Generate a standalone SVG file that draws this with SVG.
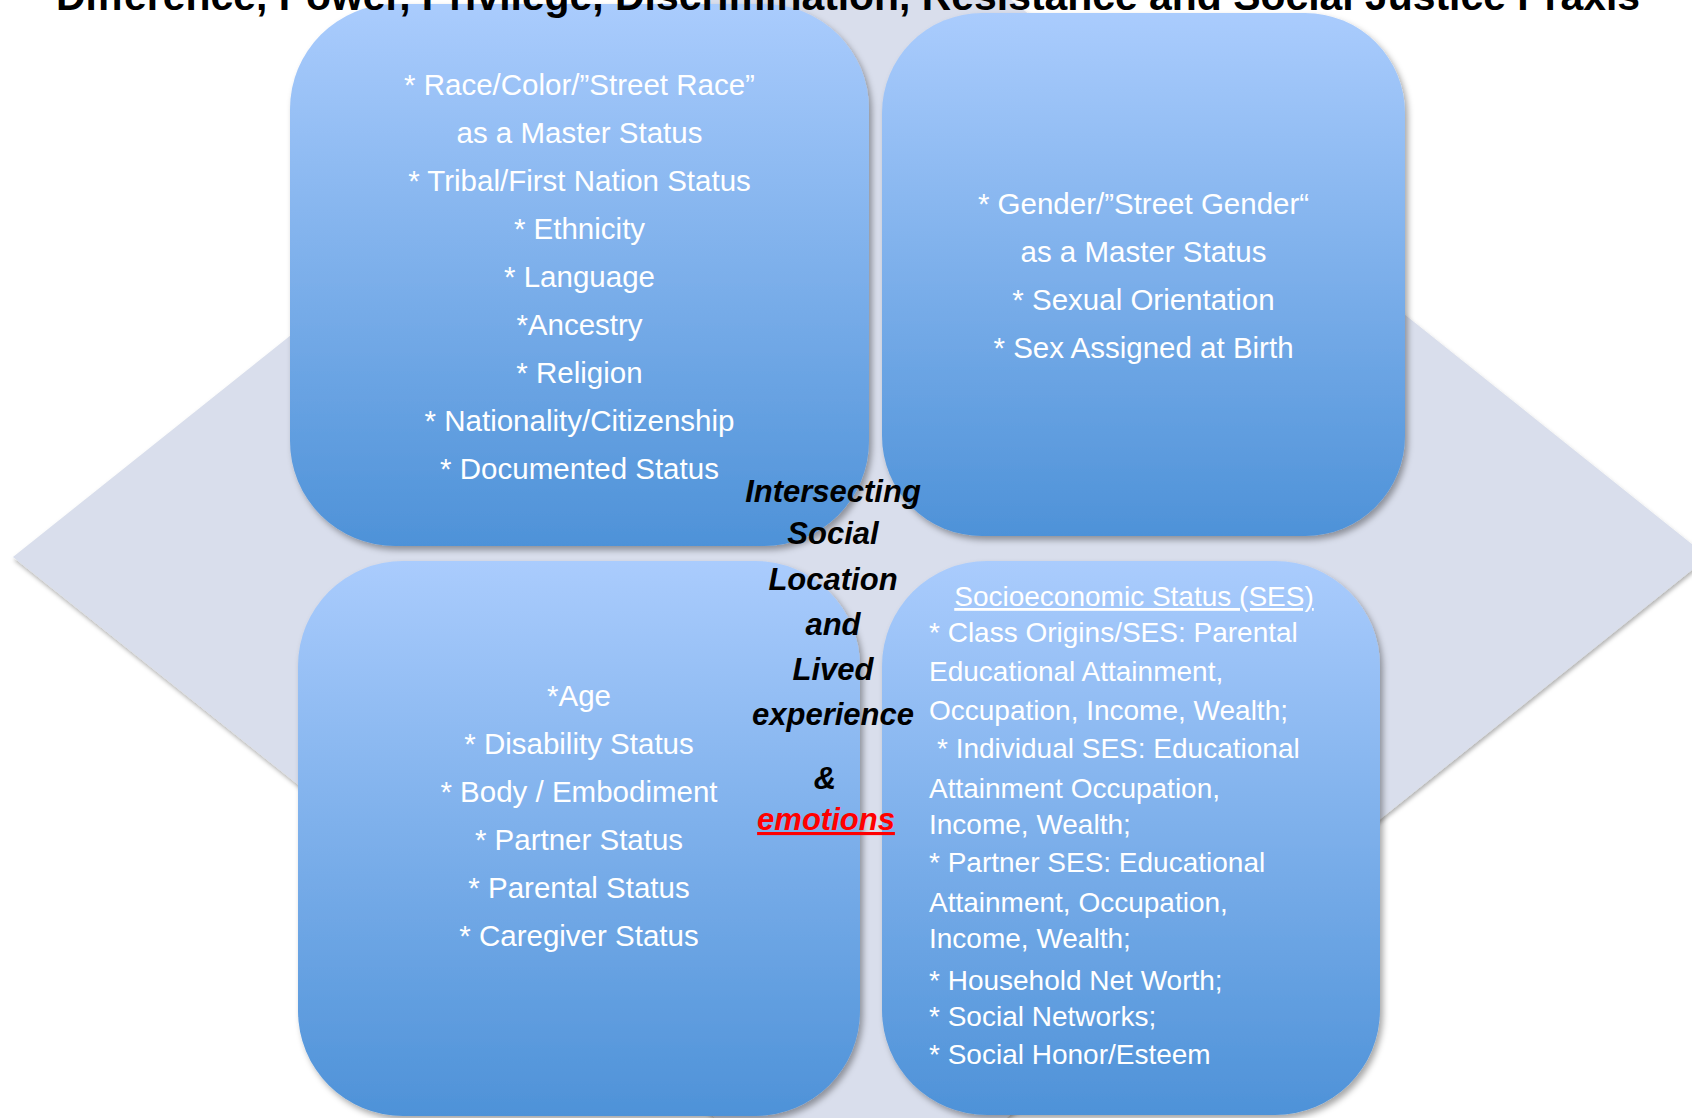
<svg xmlns="http://www.w3.org/2000/svg" width="1692" height="1118" viewBox="0 0 1692 1118">
<defs>
<linearGradient id="boxGrad" x1="0" y1="0" x2="0" y2="1">
<stop offset="0" stop-color="#AACCFD"/>
<stop offset="1" stop-color="#4E92D8"/>
</linearGradient>
<filter id="shadow" x="-10%" y="-10%" width="120%" height="120%">
<feDropShadow dx="3" dy="4" stdDeviation="3" flood-color="#000" flood-opacity="0.35"/>
</filter>
<filter id="dshadow" x="-5%" y="-5%" width="110%" height="110%">
<feDropShadow dx="1" dy="3" stdDeviation="2" flood-color="#000" flood-opacity="0.3"/>
</filter>
</defs>
<style>
.box { fill: url(#boxGrad); filter: url(#shadow); }
.t { font-family: "Liberation Sans", Arial, sans-serif; font-size: 29.5px; fill: #FFFFFF; text-anchor: middle; }
.ses { font-family: "Liberation Sans", Arial, sans-serif; font-size: 28px; fill: #FFFFFF; }
.c { font-family: "Liberation Sans", Arial, sans-serif; font-size: 31px; font-weight: bold; font-style: italic; fill: #000000; text-anchor: middle; }
.title { font-family: "Liberation Sans", Arial, sans-serif; font-size: 40px; font-weight: bold; fill: #000000; }
</style>
<rect x="0" y="0" width="1692" height="1118" fill="#FFFFFF"/>
<g id="background-diamond">
<polygon points="13,557 861,-120 1708,557 861,1234" fill="#D9DEEC" filter="url(#dshadow)"/>
</g>
<g id="connectors"></g>
<g id="node-race">
<rect class="box" x="290" y="4" width="579" height="542" rx="105" ry="105"/>
<text class="t" x="579.5" y="94.5">* Race/Color/”Street Race”</text>
<text class="t" x="579.5" y="142.5">as a Master Status</text>
<text class="t" x="579.5" y="190.5">* Tribal/First Nation Status</text>
<text class="t" x="579.5" y="238.5">* Ethnicity</text>
<text class="t" x="579.5" y="286.5">* Language</text>
<text class="t" x="579.5" y="334.5">*Ancestry</text>
<text class="t" x="579.5" y="382.5">* Religion</text>
<text class="t" x="579.5" y="430.5">* Nationality/Citizenship</text>
<text class="t" x="579.5" y="478.5">* Documented Status</text>
</g>
<g id="node-gender">
<rect class="box" x="882" y="13" width="523" height="523" rx="100" ry="100"/>
<text class="t" x="1143.5" y="214">* Gender/”Street Gender“</text>
<text class="t" x="1143.5" y="262">as a Master Status</text>
<text class="t" x="1143.5" y="310">* Sexual Orientation</text>
<text class="t" x="1143.5" y="358">* Sex Assigned at Birth</text>
</g>
<g id="node-age">
<rect class="box" x="298" y="561" width="562" height="555" rx="105" ry="105"/>
<text class="t" x="579" y="706">*Age</text>
<text class="t" x="579" y="754">* Disability Status</text>
<text class="t" x="579" y="802">* Body / Embodiment</text>
<text class="t" x="579" y="850">* Partner Status</text>
<text class="t" x="579" y="898">* Parental Status</text>
<text class="t" x="579" y="946">* Caregiver Status</text>
</g>
<g id="node-ses">
<rect class="box" x="882" y="561" width="498" height="554" rx="105" ry="105"/>
<text class="ses" x="1134" y="606" text-anchor="middle" text-decoration="underline">Socioeconomic Status (SES)</text>
<text class="ses" x="929" y="642">* Class Origins/SES: Parental</text>
<text class="ses" x="929" y="681">Educational Attainment,</text>
<text class="ses" x="929" y="720">Occupation, Income, Wealth;</text>
<text class="ses" x="937" y="758">* Individual SES: Educational</text>
<text class="ses" x="929" y="798">Attainment Occupation,</text>
<text class="ses" x="929" y="834">Income, Wealth;</text>
<text class="ses" x="929" y="872">* Partner SES: Educational</text>
<text class="ses" x="929" y="912">Attainment, Occupation,</text>
<text class="ses" x="929" y="948">Income, Wealth;</text>
<text class="ses" x="929" y="990">* Household Net Worth;</text>
<text class="ses" x="929" y="1026">* Social Networks;</text>
<text class="ses" x="929" y="1064">* Social Honor/Esteem</text>
</g>
<g id="center-label">
<text class="c" x="833" y="502">Intersecting</text>
<text class="c" x="833" y="544">Social</text>
<text class="c" x="833" y="590">Location</text>
<text class="c" x="833" y="635">and</text>
<text class="c" x="833" y="680">Lived</text>
<text class="c" x="833" y="725">experience</text>
<text class="c" x="825" y="789">&amp;</text>
<text class="c" x="826" y="830" fill="#FF0000" style="fill:#FF0000" text-decoration="underline">emotions</text>
</g>
<g id="title">
<text class="title" x="56" y="10" textLength="1584" lengthAdjust="spacingAndGlyphs">Difference, Power, Privilege, Discrimination, Resistance and Social Justice Praxis</text>
</g>
</svg>
